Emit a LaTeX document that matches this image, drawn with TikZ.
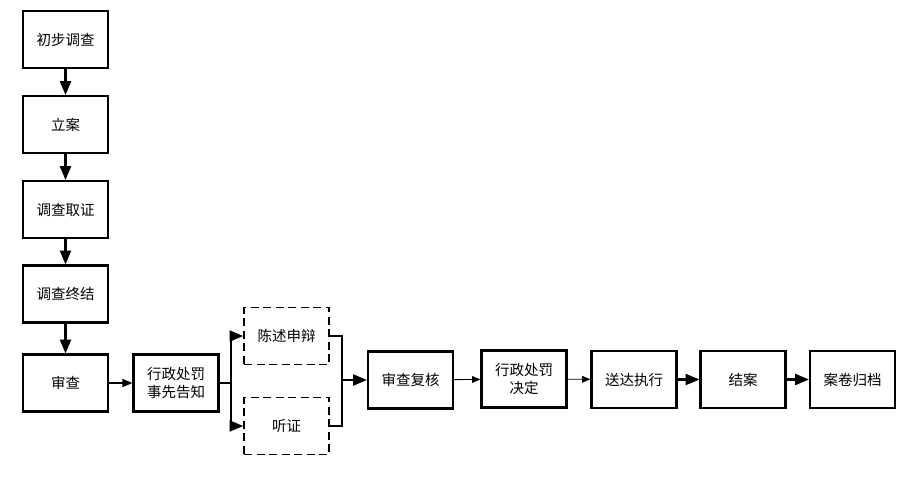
\documentclass[tikz,border=0pt]{standalone}
\usepackage{fontspec}
\newfontfamily\cjk{Noto Sans CJK SC}
\usetikzlibrary{arrows}

\begin{document}
\begin{tikzpicture}[x=1pt,y=-1pt]
\tikzstyle{every node}=[minimum width=85pt, minimum height=57pt, inner sep=1pt, font=\cjk\fontsize{14.5}{18}\selectfont, align=center]
\tikzstyle{step box}=[draw, line width=2.4pt]
\tikzstyle{opt box}=[draw, line width=1.8pt, dash pattern=on 8pt off 4.5pt]
\tikzstyle{thick arr}=[-triangle 45, line width=2.2pt]
\tikzstyle{thin arr}=[-triangle 45, line width=0.9pt]
\useasboundingbox (0,0) rectangle (917,477);
\draw (65.5,39.5) node (s1) [step box] {初步调查};
\draw (65.5,124.5) node (s2) [step box] {立案};
\draw (65.5,209.5) node (s3) [step box] {调查取证};
\draw (65.5,294) node (s4) [step box] {调查终结};
\draw (65.5,383) node (s5) [step box] {审查};
\draw (176,383) node (s6) [step box] {行政处罚\\事先告知};
\draw (286.5,336) node (s7) [opt box] {陈述申辩};
\draw (286.5,426) node (s8) [opt box] {听证};
\draw (410.5,380) node (s9) [step box] {审查复核};
\draw (524,379) node (s10) [step box] {行政处罚\\决定};
\draw (634,379.5) node (s11) [step box] {送达执行};
\draw (743,379.5) node (s12) [step box] {结案};
\draw (852.5,379.5) node (s13) [step box] {案卷归档};
\coordinate (b1) at (231,383);
\coordinate (b2) at (342,380);
\draw [thick arr] (s1) -- (s2);
\draw [thick arr] (s2) -- (s3);
\draw [thick arr] (s3) -- (s4);
\draw [thick arr] (s4) -- (s5);
\draw [thin arr, line width=1.3pt] (s5) -- (s6);
\draw [line width=1.5pt] (s6) -- (b1);
\draw [thick arr] (b1) |- (s7);
\draw [thick arr] (b1) |- (s8);
\draw [line width=2.2pt] (s7) -| (b2);
\draw [line width=2.2pt] (s8) -| (b2);
\draw [thick arr] (b2) -- (s9);
\draw [thin arr] (s9) -- (s10);
\draw [thin arr] (s10) -- (s11);
\draw [thick arr] (s11) -- (s12);
\draw [thick arr] (s12) -- (s13);
\end{tikzpicture}
\end{document}
